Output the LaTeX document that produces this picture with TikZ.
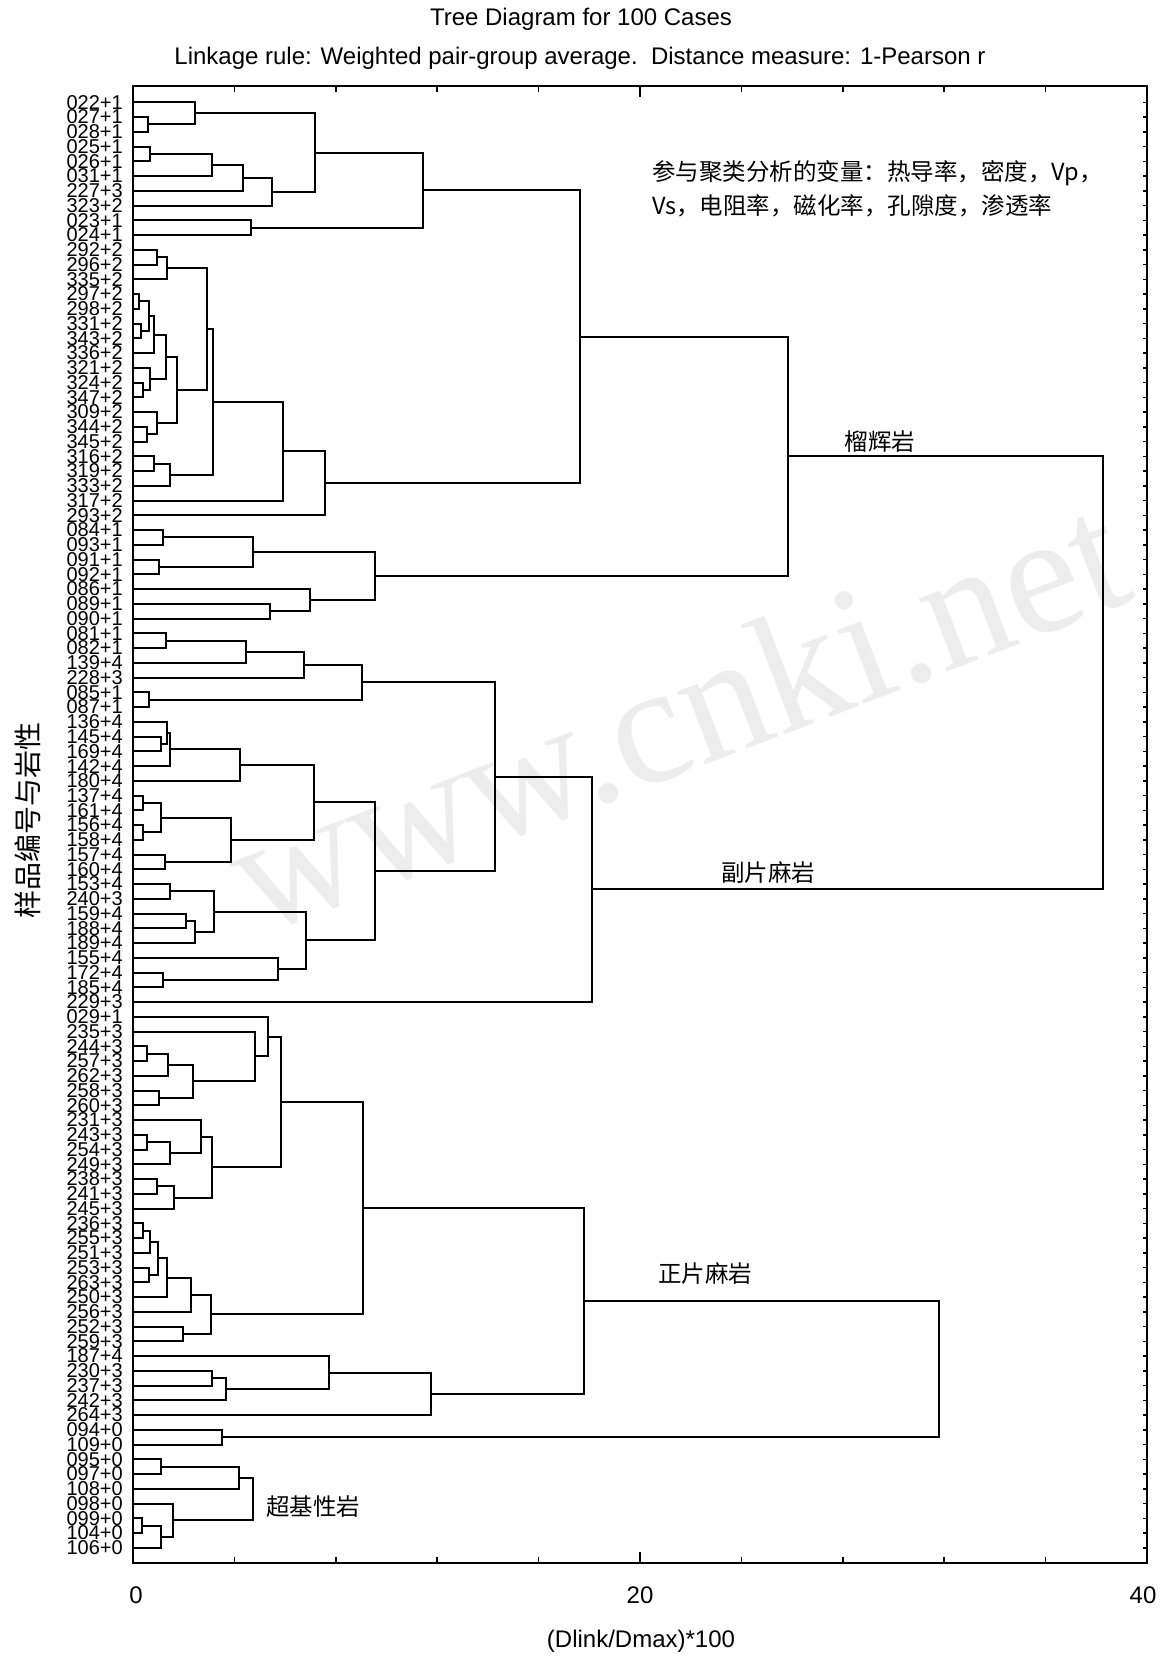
\documentclass[tikz,border=0pt]{standalone}
\usepackage{fontspec}
\setmainfont{Liberation Sans}
\newfontfamily\cjk{Noto Sans CJK SC}
\newfontfamily\wmfont{Liberation Serif}
\usetikzlibrary{calc}
\newcommand\leaffont{\fontsize{20}{20}\selectfont}
\newcommand\txtfont{\fontsize{24}{28}\selectfont}
\newcommand\cjkfont{\cjk\fontsize{23.5}{28}\selectfont}
\tikzset{
  dl/.style={line width=2pt, line cap=rect},
  frm/.style={line width=2.4pt},
  tck/.style={line width=1.6pt},
  leaf/.style={font=\leaffont, inner sep=0pt, anchor=east},
  txt/.style={font=\txtfont, inner sep=0pt},
  cjt/.style={font=\cjkfont, inner sep=0pt},
}
% merge two clusters #1,#2 at height #3 (x in px), new cluster #4
\newcommand\dmerge[4]{%
  \coordinate (hx) at (#3,0);
  \path let \p1=($(#1)!.5!(#2)$), \p2=(hx) in coordinate (#4) at (\x2,\y1);
  \draw[dl] (#1) -- (#1 -| hx) -- (#2 -| hx) -- (#2);
}
\begin{document}
\begin{tikzpicture}[x=1pt,y=-1pt]
\useasboundingbox (0,0) rectangle (1160,1658);
\fill[white] (0,0) rectangle (1160,1658);

% watermark
\node[rotate=21, text=black!7, font=\wmfont\fontsize{170}{170}\selectfont, inner sep=0pt] (wm) at (677,714) {www.cnki.net};

% titles
\node[txt] (title) at (581,19) {Tree Diagram for 100 Cases};
\node[txt] (subtitle) at (580,58) {Linkage rule: Weighted pair-group average.\ \ Distance measure: 1-Pearson r};

% frame
\draw[frm] (133,86) rectangle (1147,1563);
\foreach \k in {1,...,9}{
  \pgfmathsetmacro\tx{133+\k*25.35*4}
  \pgfmathsetmacro\tl{ifthenelse(\k==5,11,6)}
  \draw[tck] (\tx,1563) -- (\tx,1563-\tl);
  \draw[tck] (\tx,86) -- (\tx,86+\tl);
}

% leaves
\foreach \lab [count=\i] in {022+1,027+1,028+1,025+1,026+1,031+1,227+3,323+2,023+1,024+1,
 292+2,296+2,335+2,297+2,298+2,331+2,343+2,336+2,321+2,324+2,
 347+2,309+2,344+2,345+2,316+2,319+2,333+2,317+2,293+2,084+1,
 093+1,091+1,092+1,086+1,089+1,090+1,081+1,082+1,139+4,228+3,
 085+1,087+1,136+4,145+4,169+4,142+4,180+4,137+4,161+4,156+4,
 158+4,157+4,160+4,153+4,240+3,159+4,188+4,189+4,155+4,172+4,
 185+4,229+3,029+1,235+3,244+3,257+3,262+3,258+3,260+3,231+3,
 243+3,254+3,249+3,238+3,241+3,245+3,236+3,255+3,251+3,253+3,
 263+3,250+3,256+3,252+3,259+3,187+4,230+3,237+3,242+3,264+3,
 094+0,109+0,095+0,097+0,108+0,098+0,099+0,104+0,106+0}{
  \pgfmathsetmacro\yy{102.3+(\i-1)*14.75}
  \coordinate (L\i) at (133,\yy);
  \node[leaf] (T\i) at (123,\yy) {\lab};
  \draw[tck] (1147,\yy) -- (1143,\yy);
}

% top group (榴辉岩)
\dmerge{L2}{L3}{148}{a1}
\dmerge{L1}{a1}{195}{a2}
\dmerge{L4}{L5}{150}{a3}
\dmerge{a3}{L6}{212}{a4}
\dmerge{a4}{L7}{242.7}{a5}
\dmerge{a5}{L8}{272.3}{a6}
\dmerge{a2}{a6}{315}{a7}
\dmerge{L9}{L10}{251}{a8}
\dmerge{a7}{a8}{423}{A}
\dmerge{L11}{L12}{157.3}{b1}
\dmerge{b1}{L13}{167.3}{b2}
\dmerge{L14}{L15}{139}{b3}
\dmerge{L16}{L17}{140.7}{b4}
\dmerge{b3}{b4}{149.3}{b5}
\dmerge{b5}{L18}{154.3}{b6}
\dmerge{L20}{L21}{142.7}{b7}
\dmerge{L19}{b7}{150}{b8}
\dmerge{b6}{b8}{166}{b9}
\dmerge{L23}{L24}{147.3}{b10}
\dmerge{L22}{b10}{156.7}{b11}
\dmerge{b9}{b11}{176.7}{b12}
\dmerge{b2}{b12}{207.3}{b13}
\dmerge{L25}{L26}{154}{b14}
\dmerge{b14}{L27}{170}{b15}
\dmerge{b13}{b15}{212.7}{b16}
\dmerge{b16}{L28}{282.7}{b17}
\dmerge{b17}{L29}{325}{b18}
\dmerge{A}{b18}{579.5}{AB}
\dmerge{L30}{L31}{162.7}{c1}
\dmerge{L32}{L33}{159}{c2}
\dmerge{c1}{c2}{252.7}{c3}
\dmerge{L35}{L36}{270}{c4}
\dmerge{L34}{c4}{310}{c5}
\dmerge{c3}{c5}{375.4}{c6}
\dmerge{AB}{c6}{787.8}{ABC}

% middle group (副片麻岩)
\dmerge{L37}{L38}{166}{d1}
\dmerge{d1}{L39}{245.7}{d2}
\dmerge{d2}{L40}{304.3}{d3}
\dmerge{L41}{L42}{149.3}{d4}
\dmerge{d3}{d4}{361.6}{d5}
\dmerge{L44}{L45}{160.7}{e1}
\dmerge{L43}{e1}{166.7}{e2}
\dmerge{e2}{L46}{170}{e3}
\dmerge{e3}{L47}{240}{e4}
\dmerge{L48}{L49}{142.7}{e5}
\dmerge{L50}{L51}{143.3}{e6}
\dmerge{e5}{e6}{160.7}{e7}
\dmerge{L52}{L53}{165.3}{e8}
\dmerge{e7}{e8}{230.7}{e9}
\dmerge{e4}{e9}{314}{e10}
\dmerge{L54}{L55}{170}{f1}
\dmerge{L56}{L57}{186}{f2}
\dmerge{f2}{L58}{195}{f3}
\dmerge{f1}{f3}{214}{f4}
\dmerge{L60}{L61}{162.7}{f5}
\dmerge{L59}{f5}{278.3}{f6}
\dmerge{f4}{f6}{306}{f7}
\dmerge{e10}{f7}{375.4}{ef}
\dmerge{d5}{ef}{494.9}{def}
\dmerge{def}{L62}{592}{defg}
\dmerge{ABC}{defg}{1102.9}{TOPA}

% lower group (正片麻岩)
\dmerge{L65}{L66}{147.3}{g1}
\dmerge{g1}{L67}{168.3}{g2}
\dmerge{L68}{L69}{159.3}{g3}
\dmerge{g2}{g3}{193.3}{g4}
\dmerge{L64}{g4}{255}{g5}
\dmerge{L63}{g5}{268.3}{g6}
\dmerge{L71}{L72}{147.3}{h1}
\dmerge{h1}{L73}{170}{h2}
\dmerge{L70}{h2}{200.7}{h3}
\dmerge{L74}{L75}{156.7}{h4}
\dmerge{h4}{L76}{174.3}{h5}
\dmerge{h3}{h5}{211.7}{h6}
\dmerge{g6}{h6}{280.7}{gh}
\dmerge{L77}{L78}{142.7}{i1}
\dmerge{i1}{L79}{150}{i2}
\dmerge{L80}{L81}{149.3}{i3}
\dmerge{i2}{i3}{158.3}{i4}
\dmerge{i4}{L82}{166.7}{i5}
\dmerge{i5}{L83}{190.7}{i6}
\dmerge{L84}{L85}{182.7}{i7}
\dmerge{i6}{i7}{210.7}{i8}
\dmerge{gh}{i8}{362.7}{ghi}
\dmerge{L87}{L88}{212.3}{j1}
\dmerge{j1}{L89}{225.7}{j2}
\dmerge{L86}{j2}{329.3}{j3}
\dmerge{j3}{L90}{431.4}{j4}
\dmerge{ghi}{j4}{583.7}{ghij}
\dmerge{L91}{L92}{222.3}{k1}
\dmerge{ghij}{k1}{939}{TOPB}

% ultrabasic group (超基性岩)
\dmerge{L93}{L94}{161}{l1}
\dmerge{l1}{L95}{239}{l2}
\dmerge{L97}{L98}{141.5}{l3}
\dmerge{l3}{L99}{160.7}{l4}
\dmerge{L96}{l4}{173.3}{l5}
\dmerge{l2}{l5}{252.7}{l6}

% annotations
\node[cjt, anchor=west] (vars1) at (652,173) {参与聚类分析的变量：热导率，密度，Vp，};
\node[cjt, anchor=west] (vars2) at (652,206) {Vs，电阻率，磁化率，孔隙度，渗透率};
\node[cjt] (g1lab) at (880,442) {榴辉岩};
\node[cjt] (g2lab) at (768,873) {副片麻岩};
\node[cjt] (g3lab) at (705,1274) {正片麻岩};
\node[cjt] (g4lab) at (313,1507) {超基性岩};

% axes labels
\node[txt] (x0) at (136,1595) {0};
\node[txt] (x20) at (640,1595) {20};
\node[txt] (x40) at (1143,1595) {40};
\node[txt] (xlab) at (641,1641) {(Dlink/Dmax)*100};
\node[cjt, rotate=90, font=\cjk\fontsize{28}{30}\selectfont] (ylab) at (28,820) {样品编号与岩性};
\end{tikzpicture}
\end{document}
